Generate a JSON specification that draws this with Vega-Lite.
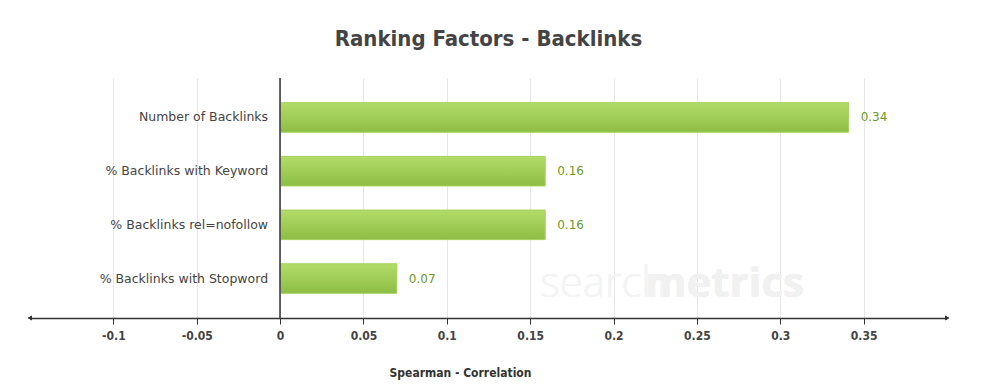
{
  "$schema": "https://vega.github.io/schema/vega-lite/v6.json",
  "width": 917,
  "height": 240,
  "autosize": "none",
  "padding": {"left": 30, "top": 78, "right": 40, "bottom": 72},
  "background": "white",
  "title": {
    "text": "Ranking Factors - Backlinks",
    "font": "DejaVu Sans Condensed, Roboto, sans-serif",
    "fontSize": 22,
    "fontWeight": "bold",
    "color": "#444444",
    "anchor": "middle",
    "baseline": "alphabetic",
    "offset": 10
  },
  "config": {"view": {"stroke": null}},
  "resolve": {"scale": {"y": "independent"}},
  "data": {
    "values": [
      {"factor": "Number of Backlinks", "value": 0.341, "label": "0.34"},
      {"factor": "% Backlinks with Keyword", "value": 0.159, "label": "0.16"},
      {"factor": "% Backlinks rel=nofollow", "value": 0.159, "label": "0.16"},
      {"factor": "% Backlinks with Stopword", "value": 0.070, "label": "0.07"}
    ]
  },
  "layer": [
    {
      "layer": [
        {
          "mark": {"type": "text", "text": "search", "font": "Open Sans", "fontSize": 42, "fontWeight": 300, "color": "#f4f4f4", "align": "left", "baseline": "alphabetic", "dy": 18},
          "encoding": {
            "x": {"datum": 0.156, "type": "quantitative", "scale": {"domain": [-0.15, 0.4]}},
            "y": {"datum": "% Backlinks with Stopword"}
          }
        },
        {
          "mark": {"type": "text", "text": "metrics", "font": "Open Sans", "fontSize": 42, "fontWeight": "bold", "color": "#f1f1f1", "align": "left", "baseline": "alphabetic", "dy": 18},
          "encoding": {
            "x": {"datum": 0.219, "type": "quantitative"},
            "y": {"datum": "% Backlinks with Stopword"}
          }
        },
        {
          "mark": {"type": "bar", "color": {"gradient": "linear", "x1": 0, "y1": 0, "x2": 0, "y2": 1, "stops": [{"offset": 0, "color": "#b2dd68"}, {"offset": 1, "color": "#8dbd45"}]}, "stroke": "#a3d05a", "strokeWidth": 1},
          "encoding": {
            "x": {
              "field": "value",
              "type": "quantitative",
              "scale": {"domain": [-0.15, 0.4], "nice": false, "zero": false},
              "axis": {
                "values": [-0.1, -0.05, 0, 0.05, 0.1, 0.15, 0.2, 0.25, 0.3, 0.35],
                "labelExpr": "'' + datum.value",
                "grid": true,
                "gridColor": "#e6e6e6",
                "domainColor": "#333333",
                "domainWidth": 1.5,
                "tickColor": "#333333",
                "tickSize": 6,
                "labelFont": "DejaVu Sans Condensed, Roboto, sans-serif",
                "labelFontWeight": "bold",
                "labelFontSize": 12,
                "labelColor": "#444444",
                "labelPadding": 6,
                "title": "Spearman - Correlation",
                "titleFont": "DejaVu Sans Condensed, Roboto, sans-serif",
                "titleFontWeight": "bold",
                "titleFontSize": 12,
                "titleColor": "#333333",
                "titleAnchor": "middle",
                "titleX": 430,
                "titleY": 54,
                "titleBaseline": "middle"
              }
            }
          }
        },
        {
          "mark": {"type": "rule", "color": "#555555", "strokeWidth": 1},
          "encoding": {"x": {"datum": 0, "type": "quantitative"}, "y": null}
        },
        {
          "mark": {"type": "text", "align": "left", "baseline": "middle", "dx": 12, "font": "DejaVu Sans", "fontSize": 12, "color": "#6a9a28"},
          "encoding": {
            "x": {"field": "value", "type": "quantitative"},
            "text": {"field": "label"}
          }
        },
        {
          "mark": {"type": "text", "align": "right", "baseline": "middle", "dx": -12, "font": "DejaVu Sans", "fontSize": 12.5, "color": "#444444"},
          "encoding": {
            "x": {"datum": 0, "type": "quantitative"},
            "text": {"field": "factor"}
          }
        }
      ],
      "encoding": {
        "y": {
          "field": "factor",
          "type": "nominal",
          "sort": null,
          "axis": null,
          "scale": {
            "domain": ["Number of Backlinks", "% Backlinks with Keyword", "% Backlinks rel=nofollow", "% Backlinks with Stopword"],
            "paddingInner": 0.45,
            "paddingOuter": 0.46
          }
        }
      }
    },
    {
      "mark": {"type": "point", "shape": "triangle-left", "filled": true, "color": "#333333", "size": 22, "opacity": 1},
      "encoding": {
        "x": {"datum": -0.15, "type": "quantitative"},
        "y": {"datum": 0, "type": "quantitative", "scale": {"domain": [0, 1]}, "axis": null}
      }
    },
    {
      "mark": {"type": "point", "shape": "triangle-right", "filled": true, "color": "#333333", "size": 22, "opacity": 1},
      "encoding": {
        "x": {"datum": 0.4, "type": "quantitative"},
        "y": {"datum": 0, "type": "quantitative", "scale": {"domain": [0, 1]}, "axis": null}
      }
    }
  ]
}
